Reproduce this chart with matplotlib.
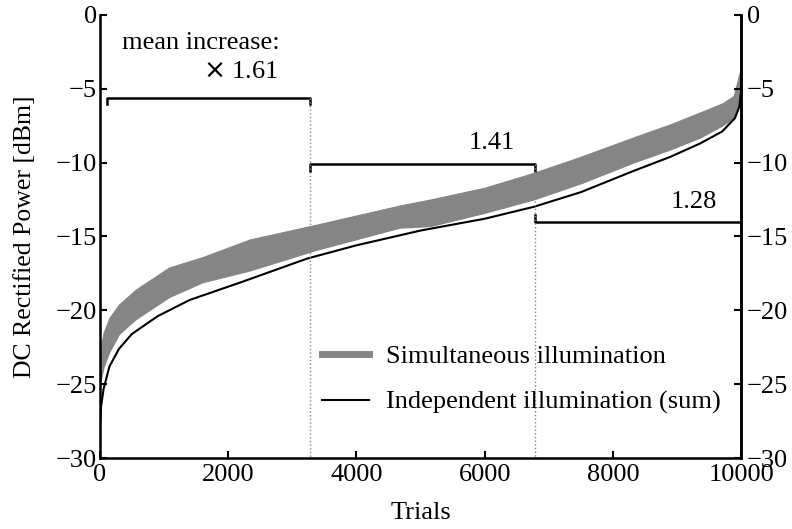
import numpy as np
import matplotlib.pyplot as plt
from matplotlib.lines import Line2D

plt.rcParams['font.family'] = ['Liberation Serif', 'DejaVu Serif']
plt.rcParams['font.size'] = 19

# independent illumination (sum), sorted
ind_x = [0, 20, 60, 150, 300, 500, 900, 1400, 2200, 3230, 4000, 5000, 6000,
         6760, 7500, 8300, 8900, 9360, 9700, 9900, 9970, 10000]
ind_y = [-28.0, -26.5, -25.3, -23.8, -22.6, -21.6, -20.4, -19.3, -18.1, -16.5,
         -15.6, -14.6, -13.8, -13.0, -12.0, -10.6, -9.6, -8.7, -7.9, -7.0, -6.2, -5.0]

# simultaneous illumination: envelope of the noisy trace
sim_x = [0, 60, 150, 300, 560, 1080, 1600, 2340, 3380, 4680, 5150, 6000,
         6760, 7500, 8315, 8900, 9360, 9700, 9880, 10000]
sim_hi = [-22.8, -21.5, -20.5, -19.6, -18.6, -17.1, -16.4, -15.2, -14.2, -12.9,
          -12.5, -11.7, -10.7, -9.6, -8.3, -7.4, -6.6, -6.0, -5.5, -3.5]
sim_lo = [-25.0, -23.8, -22.8, -21.6, -20.6, -19.1, -18.1, -17.3, -15.9, -14.4,
          -14.3, -13.4, -12.5, -11.4, -10.0, -9.1, -8.3, -7.5, -7.0, -5.5]

# brackets: start, end, level, tick direction, label
br_start = [110, 3280, 6790]
br_end = [3280, 6790, 10000]
br_level = [-5.6, -10.1, -14.0]
br_dir = [-1, -1, 1]
br_labels = [r'$\times$ 1.61', '1.41', '1.28']
lab_x = [2780, 6470, 9620]
lab_y = [-3.9, -8.7, -12.7]

yticks = [0, -5, -10, -15, -20, -25, -30]
ytick_labels = ['0', '\u22125', '\u221210', '\u221215', '\u221220', '\u221225', '\u221230']

fig = plt.figure(figsize=(7.92, 5.29), dpi=100)
ax = fig.add_axes([0.126, 0.134, 0.810, 0.838])

gray = '#858585'
ax.fill_between(sim_x, sim_lo, sim_hi, color=gray, lw=0.8, edgecolor=gray)
ax.plot(ind_x, ind_y, color='black', lw=1.5)

for s, e, lv, d in zip(br_start, br_end, br_level, br_dir):
    ax.plot([s, s, e, e], [lv + 0.45 * d, lv, lv, lv + 0.45 * d], color='black', lw=1.8)
ax.plot([3280, 3280], [-5.6, -30], color=gray, ls=':', lw=1)
ax.plot([6790, 6790], [-10.1, -30], color=gray, ls=':', lw=1)

for t, x, y in zip(br_labels, lab_x, lab_y):
    ax.text(x, y, t, ha='right', va='center')
ax.text(340, -1.9, 'mean increase:', ha='left', va='center')

ax.set_xlim(0, 10000)
ax.set_ylim(-30, 0)
ax.set_xticks([0, 2000, 4000, 6000, 8000, 10000])
ax.set_yticks(yticks)
ax.set_yticklabels(ytick_labels)
ax.tick_params(direction='in', length=5, width=1.5, pad=2)
ax.tick_params(axis='x', pad=4)
ax.set_xlabel('Trials', labelpad=12)
ax.set_ylabel('DC Rectified Power [dBm]', labelpad=14, fontsize=18.5)
ax.spines['top'].set_visible(False)
for sp in ['left', 'right', 'bottom']:
    ax.spines[sp].set_linewidth(1.8)

ax2 = ax.twinx()
ax2.set_ylim(-30, 0)
ax2.set_yticks(yticks)
ax2.set_yticklabels(ytick_labels)
ax2.tick_params(direction='in', length=5, width=1.5, pad=4)
ax2.spines['top'].set_visible(False)
ax2.spines['right'].set_linewidth(1.8)

handles = [Line2D([], [], color=gray, lw=5), Line2D([], [], color='black', lw=1.5)]
ax.legend(handles, ['Simultaneous illumination', 'Independent illumination (sum)'],
          loc='lower left', bbox_to_anchor=(0.31, 0.045), frameon=False,
          handlelength=1.75, handletextpad=0.65, labelspacing=0.85)

plt.savefig('out.png', dpi=100)
